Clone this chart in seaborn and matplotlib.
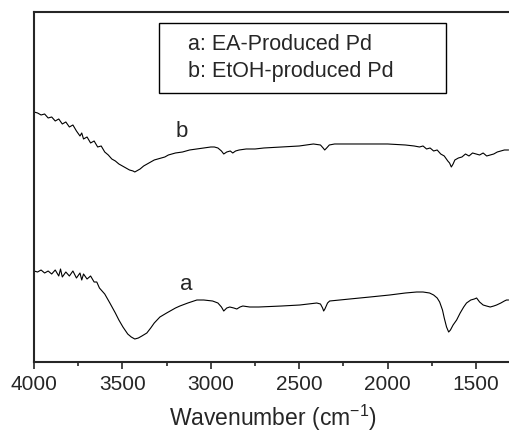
import matplotlib
matplotlib.use('Agg')
import matplotlib.pyplot as plt
import matplotlib.patches as patches
import seaborn as sns
import pandas as pd

# spectra (transmittance, arbitrary units)
wn_b = [4000, 3980, 3960, 3940, 3920, 3900, 3880, 3860, 3840, 3820,
        3800, 3780, 3760, 3740, 3730, 3720, 3700, 3680, 3660, 3640,
        3620, 3600, 3580, 3560, 3540, 3520, 3500, 3480, 3460, 3440,
        3430, 3420, 3400, 3380, 3360, 3340, 3320, 3300, 3280, 3260,
        3240, 3200, 3160, 3120, 3080, 3040, 3000, 2980, 2960, 2940,
        2927, 2910, 2890, 2876, 2860, 2840, 2800, 2750, 2700, 2600,
        2500, 2420, 2380, 2365, 2356, 2345, 2330, 2300, 2200, 2100,
        2000, 1900, 1850, 1820, 1800, 1780, 1760, 1740, 1720, 1700,
        1680, 1660, 1650, 1640, 1630, 1620, 1600, 1580, 1560, 1540,
        1520, 1500, 1480, 1460, 1440, 1420, 1400, 1380, 1360, 1340,
        1316]
t_b = [250, 249, 247, 248, 244, 245, 241, 243, 238, 240,
       235, 237, 231, 226, 229, 223, 225, 219, 221, 215,
       216, 210, 207, 203, 201, 198, 196, 194, 192, 191,
       190, 191, 193, 196, 198, 200, 202, 203, 204, 205,
       207, 209, 210, 212, 213, 214, 215, 215, 214, 211,
       208, 210, 211, 209, 211, 212, 213, 213, 214, 215,
       216, 218, 217, 214, 212, 214, 217, 218, 218, 218,
       218, 217, 216, 215, 216, 213, 214, 211, 212, 208,
       206, 201, 199, 195, 198, 202, 204, 205, 208, 206,
       209, 208, 207, 209, 206, 207, 208, 210, 211, 212,
       212]

wn_a = [4000, 3980, 3960, 3940, 3920, 3900, 3880, 3860, 3850, 3840,
        3820, 3800, 3780, 3760, 3740, 3730, 3720, 3700, 3680, 3660,
        3645, 3630, 3600, 3571, 3540, 3520, 3497, 3470, 3450, 3430,
        3410, 3390, 3362, 3340, 3320, 3288, 3250, 3200, 3175, 3130,
        3079, 3040, 2990, 2960, 2940, 2927, 2910, 2893, 2870, 2853,
        2835, 2819, 2780, 2729, 2600, 2497, 2401, 2380, 2368, 2362,
        2355, 2340, 2328, 2215, 2100, 1989, 1900, 1836, 1800, 1763,
        1740, 1720, 1706, 1690, 1680, 1667, 1655, 1645, 1630, 1610,
        1590, 1570, 1554, 1530, 1510, 1497, 1480, 1460, 1441, 1420,
        1400, 1384, 1360, 1340, 1328, 1316]
t_a = [91, 90, 92, 89, 91, 88, 92, 86, 93, 85,
       90, 86, 91, 84, 89, 82, 88, 83, 86, 80,
       80, 74, 68, 59, 49, 42, 35, 28, 25, 23,
       24, 26, 29, 34, 39, 45, 49, 54, 56, 59,
       62, 62, 61, 59, 55, 51, 54, 55, 54, 53,
       55, 56, 55, 55, 56, 57, 59, 58, 54, 51,
       53, 59, 61, 63, 65, 67, 69, 70, 70, 69,
       67, 64, 60, 52, 44, 35, 30, 32, 37, 42,
       49, 55, 59, 62, 63, 64, 60, 57, 56, 55,
       56, 57, 59, 61, 62, 62]

legend_lines = ['a: EA-Produced Pd', 'b: EtOH-produced Pd']

sns.set_style('ticks')
plt.rcParams['font.family'] = ['Liberation Sans', 'DejaVu Sans']
plt.rcParams['mathtext.default'] = 'regular'

fig = plt.figure(figsize=(5.09, 4.37), dpi=100)
ax = fig.add_axes([0.0668, 0.1716, 0.938, 0.801])

df_a = pd.DataFrame({'wn': wn_a, 't': t_a})
df_b = pd.DataFrame({'wn': wn_b, 't': t_b})
sns.lineplot(data=df_a, x='wn', y='t', color='black', lw=0.8, estimator=None, ax=ax)
sns.lineplot(data=df_b, x='wn', y='t', color='black', lw=0.8, estimator=None, ax=ax)

ax.set_xlim(4000, 1300)
ax.set_ylim(0, 350)
ax.set_xticks([4000, 3500, 3000, 2500, 2000, 1500])
ax.set_xticks(range(3750, 1300, -500), minor=True)
ax.set_yticks([])
ax.tick_params(axis='x', which='major', length=5, width=1.2, labelsize=15, pad=4)
ax.tick_params(axis='x', which='minor', length=3, width=1.2)
for s in ax.spines.values():
    s.set_linewidth(1.5)
ax.set_ylabel('')
ax.set_xlabel('Wavenumber (cm$^{-1}$)', fontsize=16.5, labelpad=7)

ax.text(3140, 78, 'a', fontsize=16, ha='center', va='center')
ax.text(3163, 230, 'b', fontsize=16, ha='center', va='center')

ax.add_patch(patches.Rectangle((0.262, 0.769), 0.601, 0.200, transform=ax.transAxes,
                               fill=True, fc='white', ec='black', lw=1.0, zorder=3))
ax.text(0.3226, 0.906, legend_lines[0], transform=ax.transAxes, fontsize=15.5,
        va='center', ha='left', zorder=4)
ax.text(0.3226, 0.829, legend_lines[1], transform=ax.transAxes, fontsize=15.5,
        va='center', ha='left', zorder=4)

fig.savefig('out.png', dpi=100)
